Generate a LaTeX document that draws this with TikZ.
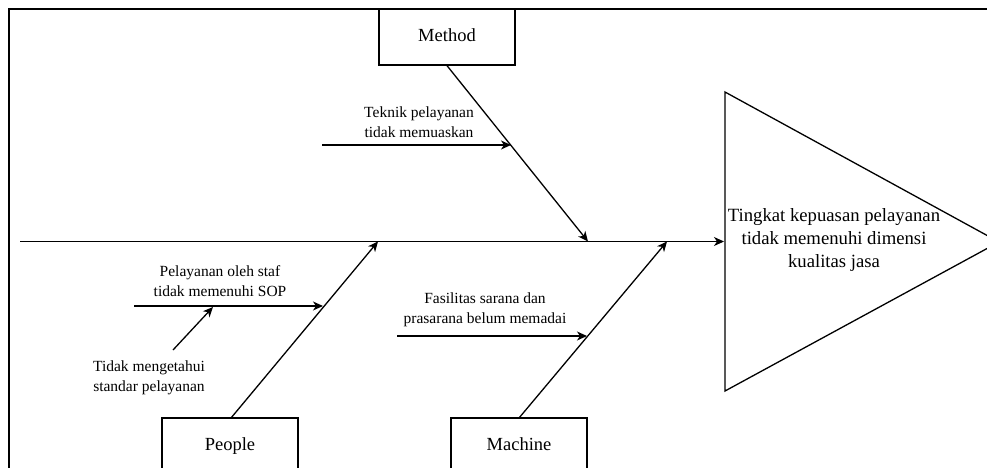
\documentclass[tikz,border=0pt]{standalone}
\usepackage{fontspec}
\setmainfont{Liberation Serif}
\usetikzlibrary{arrows.meta}
\begin{document}
\begin{tikzpicture}[x=1pt,y=-1pt,
  line/.style={line width=1.3pt,black},
  arr/.style={line width=1.3pt,black,-{Stealth[length=10pt,width=9pt,inset=3pt]}},
  catbox/.style={draw,line width=1.3pt,minimum width=136pt,minimum height=56pt,inner sep=0pt,text height=13pt,text depth=4pt,font=\fontsize{18.5}{22}\selectfont},
  lbl/.style={align=center,inner sep=0pt,font=\fontsize{15.5}{20}\selectfont},
  goaltext/.style={align=center,inner sep=0pt,font=\fontsize{18.7}{23}\selectfont}]
\useasboundingbox (0,0) rectangle (987,468);
\begin{scope}
\clip (0,0) rectangle (987,468);
% frame
\draw[line width=2pt] (9,480) -- (9,9) -- (1000,9);
% head triangle
\coordinate (tA) at (725,92);
\coordinate (tB) at (999,242);
\coordinate (tC) at (725,391);
\draw[line] (tA) -- (tB) -- (tC) -- cycle;
\node[goaltext] (goal) at (834,240) {Tingkat kepuasan pelayanan\\tidak memenuhi dimensi\\kualitas jasa};
% spine
\coordinate (sL) at (20,241.5);
\coordinate (sT) at (724,241.5);
\draw[arr] (sL) -- (sT);
% category boxes
\node[catbox,fill=white] (method) at (447,37) {Method};
\node[catbox,fill=white] (people) at (230,446) {People};
\node[catbox,fill=white] (machine) at (519,446) {Machine};
% spine points
\coordinate (mT) at (588,241.5);
\coordinate (pT) at (378,241.5);
\coordinate (cT) at (667,241.5);
\coordinate (pB) at (231,418);
\coordinate (cB) at (519,418);
\draw[arr] (method.south) -- (mT);
\draw[arr] (pB) -- (pT);
\draw[arr] (cB) -- (cT);
% sub-cause arrows
\coordinate (tk0) at (322,145);
\coordinate (tk1) at (511,145);
\draw[arr] (tk0) -- (tk1);
\node[lbl] (tkl) at (419,122) {Teknik pelayanan\\tidak memuaskan};
\coordinate (pl0) at (134,306);
\coordinate (pl1) at (323,306);
\draw[arr] (pl0) -- (pl1);
\node[lbl] (pll) at (220,281) {Pelayanan oleh staf\\tidak memenuhi SOP};
\coordinate (td0) at (173,350);
\coordinate (td1) at (213,307);
\draw[arr] (td0) -- (td1);
\node[lbl] (tdl) at (149,378) {Tidak mengetahui\\standar pelayanan};
\coordinate (fs0) at (397,336);
\coordinate (fs1) at (587,336);
\draw[arr] (fs0) -- (fs1);
\node[lbl] (fsl) at (485,310) {Fasilitas sarana dan\\prasarana belum memadai};
\end{scope}
\end{tikzpicture}
\end{document}
